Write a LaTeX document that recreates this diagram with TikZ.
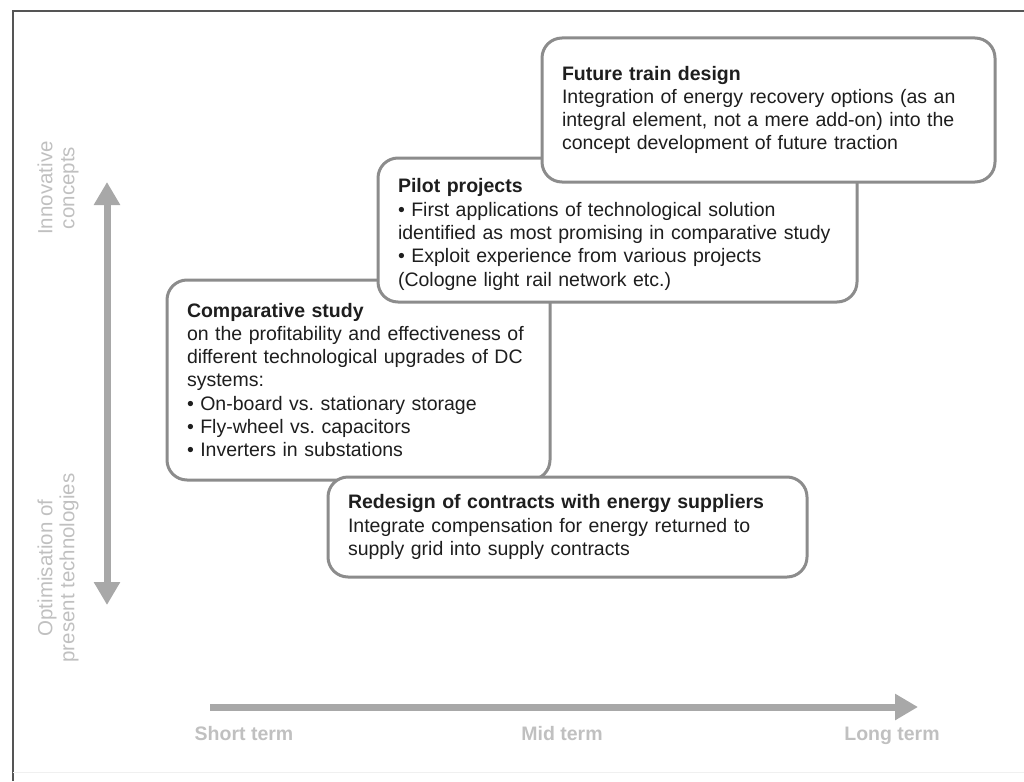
\documentclass[tikz,border=0pt]{standalone}
\usepackage{fontspec}
\setmainfont{Liberation Sans}
\usetikzlibrary{arrows.meta}
\definecolor{boxgray}{RGB}{140,140,140}
\definecolor{axisgray}{RGB}{168,168,168}
\definecolor{labelgray}{RGB}{192,192,192}
\definecolor{framegray}{RGB}{85,85,85}
\definecolor{inkgray}{RGB}{30,30,30}
\tikzstyle{stage} = [rectangle, draw=boxgray, line width=3pt, rounded corners=20pt, fill=white, text=inkgray, align=left, inner xsep=20pt, inner ysep=4pt, font={\fontsize{19.5}{23.3}\selectfont}]
\tikzstyle{axis} = [draw=axisgray, line width=7pt]
\tikzstyle{axislabel} = [text=labelgray, align=center, font={\fontsize{20.5}{22}\selectfont}]
\tikzstyle{termlabel} = [text=labelgray, anchor=base, font={\bfseries\fontsize{19.5}{22}\selectfont}]

\begin{document}
\frenchspacing
\begin{tikzpicture}[x=1pt, y=-1pt, >={Triangle[width=25pt,length=23pt]}]
        \useasboundingbox (0,0) rectangle (1024,781);
        \draw[framegray, line width=2.5pt] (13,781) |- (1024,11);
        \draw[gray!12, line width=1pt] (13,772) -- (1024,772);

        \node[stage, text width=343pt, minimum height=200pt] (comparative) at (358.5,380)
            {\textbf{Comparative study}\\on the profitability and effectiveness of\\different technological upgrades of DC\\systems:\\• On-board vs. stationary storage\\• Fly-wheel vs. capacitors\\• Inverters in substations};
        \node[stage, text width=439pt, minimum height=144pt] (pilot) at (617.5,230)
            {\rule{0pt}{23pt}\textbf{Pilot projects}\\• First applications of technological solution\\identified as most promising in comparative study\\• Exploit experience from various projects\\(Cologne light rail network etc.)};
        \node[stage, text width=413pt, minimum height=144pt] (future) at (768.5,110)
            {\textbf{Future train design}\\Integration of energy recovery options (as an\\integral element, not a mere add-on) into the\\concept development of future traction};
        \node[stage, text width=439pt, minimum height=100pt] (redesign) at (567.5,527)
            {\textbf{Redesign of contracts with energy suppliers}\\Integrate compensation for energy returned to\\supply grid into supply contracts};

        \coordinate (innovative) at (107,182);
        \coordinate (optimisation) at (107,605);
        \draw[axis, <->] (optimisation) -- (innovative);
        \node[axislabel, rotate=90] (innolabel) at (58,188) {Innovative\\concepts};
        \node[axislabel, rotate=90] (optlabel) at (58,568) {Optimisation of\\present technologies};

        \coordinate (shortend) at (210,707);
        \coordinate (longend) at (918,707);
        \draw[axis, ->] (shortend) -- (longend);
        \node[termlabel] (short) at (244,740) {Short term};
        \node[termlabel] (mid) at (562,740) {Mid term};
        \node[termlabel] (long) at (892,740) {Long term};
    \end{tikzpicture}
\end{document}
